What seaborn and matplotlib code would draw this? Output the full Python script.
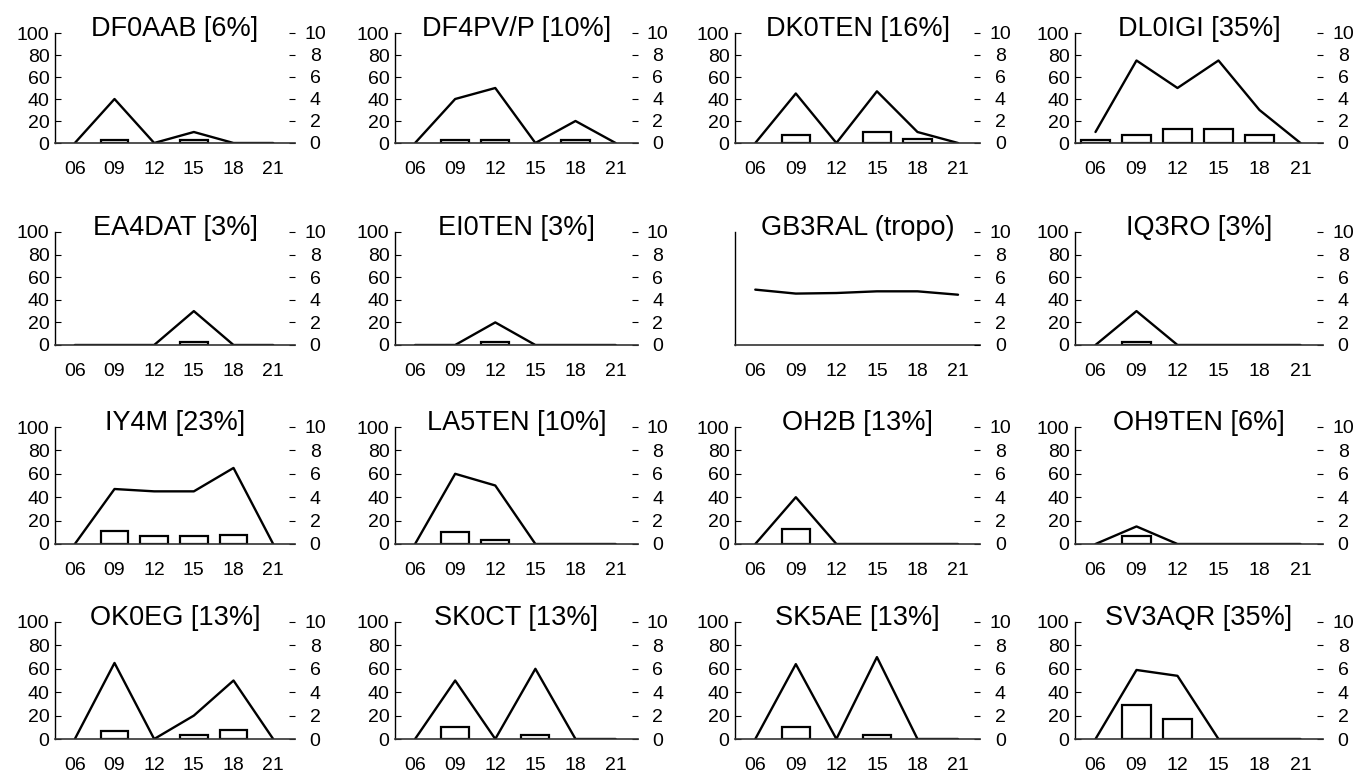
import numpy as np
import pandas as pd
import matplotlib
matplotlib.use("Agg")
import matplotlib.pyplot as plt
import seaborn as sns

sns.set_theme(style="white")
plt.rcParams['font.family'] = ['Liberation Sans', 'DejaVu Sans']

hours = ["06", "09", "12", "15", "18", "21"]

titles = ["DF0AAB [6%]", "DF4PV/P [10%]", "DK0TEN [16%]", "DL0IGI [35%]",
          "EA4DAT [3%]", "EI0TEN [3%]", "GB3RAL (tropo)", "IQ3RO [3%]",
          "IY4M [23%]", "LA5TEN [10%]", "OH2B [13%]", "OH9TEN [6%]",
          "OK0EG [13%]", "SK0CT [13%]", "SK5AE [13%]", "SV3AQR [35%]"]

# line series (left axis, 0-100); GB3RAL uses the right axis (0-10)
line_values = [
    [0, 40, 0, 10, 0, 0],
    [0, 40, 50, 0, 20, 0],
    [0, 45, 0, 47, 10, 0],
    [10, 75, 50, 75, 30, 0],
    [0, 0, 0, 30, 0, 0],
    [0, 0, 20, 0, 0, 0],
    [4.9, 4.55, 4.6, 4.75, 4.75, 4.45],
    [0, 30, 0, 0, 0, 0],
    [0, 47, 45, 45, 65, 0],
    [0, 60, 50, 0, 0, 0],
    [0, 40, 0, 0, 0, 0],
    [0, 15, 0, 0, 0, 0],
    [0, 65, 0, 20, 50, 0],
    [0, 50, 0, 60, 0, 0],
    [0, 64, 0, 70, 0, 0],
    [0, 59, 54, 0, 0, 0],
]

# bar series (right axis, 0-10)
bar_values = [
    [0, 0.3, 0, 0.3, 0, 0],
    [0, 0.3, 0.3, 0, 0.3, 0],
    [0, 0.7, 0, 1.0, 0.4, 0],
    [0.3, 0.7, 1.3, 1.3, 0.7, 0],
    [0, 0, 0, 0.3, 0, 0],
    [0, 0, 0.3, 0, 0, 0],
    [0, 0, 0, 0, 0, 0],
    [0, 0.3, 0, 0, 0, 0],
    [0, 1.1, 0.7, 0.7, 0.8, 0],
    [0, 1.0, 0.3, 0, 0, 0],
    [0, 1.3, 0, 0, 0, 0],
    [0, 0.7, 0, 0, 0, 0],
    [0, 0.7, 0, 0.35, 0.75, 0],
    [0, 1.0, 0, 0.3, 0, 0],
    [0, 1.0, 0, 0.35, 0, 0],
    [0, 2.9, 1.7, 0, 0, 0],
]

line_on_right = [t.startswith("GB3RAL") for t in titles]

W, H = 1358, 773
fig = plt.figure(figsize=(W / 100, H / 100), dpi=100)

row_px = [(33, 143), (232, 345), (427, 544), (622, 739)]

for i, title in enumerate(titles):
    r, c = divmod(i, 4)
    top, bot = row_px[r]
    left = 55 + 340 * c
    width = 240 + 8 * c / 3
    ax = fig.add_axes([left / W, 1 - bot / H, width / W, (bot - top) / H])
    ax2 = ax.twinx()

    # bars (right axis)
    bh = [h for h, v in zip(hours, bar_values[i]) if v > 0]
    bv = [v for v in bar_values[i] if v > 0]
    if bv:
        sns.barplot(x=bh, y=bv, order=hours, ax=ax2, color="white",
                    saturation=1, edgecolor="black", linewidth=1.6,
                    width=0.7, errorbar=None)
    # line
    lax = ax2 if line_on_right[i] else ax
    sns.pointplot(x=hours, y=line_values[i], order=hours, ax=lax,
                  color="black", markers="", linewidth=1.7, errorbar=None)

    for a in (ax, ax2):
        a.set_xlim(-0.5, 5.55)
        a.set_xlabel("")
        a.set_ylabel("")
        a.grid(False)
    ax.set_ylim(0, 100)
    ax2.set_ylim(0, 10)

    ax.set_xticks(range(len(hours)))
    ax.set_xticklabels(hours)
    ax.tick_params(axis="x", length=0, pad=13, labelsize=14, colors="black")

    if line_on_right[i]:
        ax.set_yticks([])
    else:
        ax.set_yticks([0, 20, 40, 60, 80, 100])
        ax.tick_params(axis="y", direction="in", length=4, width=0.8,
                       pad=4, labelsize=14, colors="black", left=True)

    ax2.set_yticks([0, 2, 4, 6, 8, 10])
    ax2.tick_params(axis="y", direction="in", length=4, width=0.8,
                    pad=14.5, labelsize=14, colors="black", right=True)
    plt.setp(ax2.get_yticklabels(), ha="center")

    for s in ("top", "right"):
        ax.spines[s].set_visible(False)
    for s in ("top", "right", "left", "bottom"):
        ax2.spines[s].set_visible(False)
    ax.spines["left"].set_color("black")
    ax.spines["left"].set_linewidth(1.0)
    ax.spines["bottom"].set_color("#333333")
    ax.spines["bottom"].set_linewidth(1.2)

    if not line_on_right[i]:
        ax.set_zorder(ax2.get_zorder() + 1)
        ax.patch.set_visible(False)

    ax.text(0.5, 0.975, title, transform=ax.transAxes, ha="center",
            va="baseline", fontsize=19.5, color="black", zorder=10)

fig.savefig("out.png", dpi=100, facecolor="white")
